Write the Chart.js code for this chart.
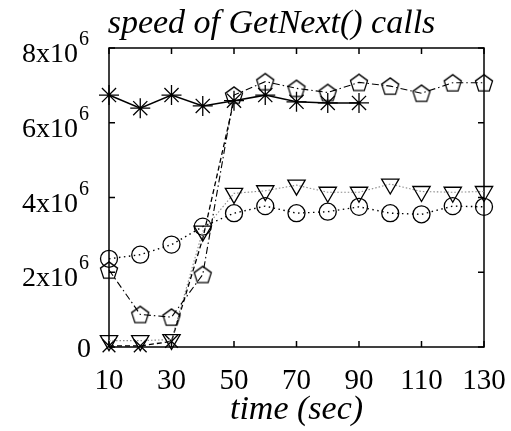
<!DOCTYPE html>
<html>
<head>
<meta charset="utf-8">
<script src="https://cdn.jsdelivr.net/npm/chart.js@4.4.1/dist/chart.umd.min.js"></script>
<style>
  html, body { margin: 0; padding: 0; background: #ffffff; }
  #wrap { width: 511px; height: 431px; }
</style>
</head>
<body>
<div id="wrap"><canvas id="chart" width="511" height="431"></canvas></div>
<script>
// Sample times (seconds)
const times = [10, 20, 30, 40, 50, 60, 70, 80, 90, 100, 110, 120, 130];

// GetNext() calls per second, one array per run
const asteriskRun = [6.74e6, 6.39e6, 6.74e6, 6.45e6, 6.59e6, 6.74e6, 6.56e6, 6.53e6, 6.53e6];
const pentagonRun = [2.06e6, 0.87e6, 0.80e6, 1.94e6, 6.74e6, 7.10e6, 6.92e6, 6.81e6, 7.08e6, 6.98e6, 6.79e6, 7.07e6, 7.07e6];
const triangleRun = [0.17e6, 0.17e6, 0.20e6, 3.10e6, 4.11e6, 4.18e6, 4.33e6, 4.14e6, 4.14e6, 4.36e6, 4.16e6, 4.14e6, 4.16e6];
const circleRun   = [2.36e6, 2.47e6, 2.74e6, 3.22e6, 3.58e6, 3.77e6, 3.58e6, 3.62e6, 3.75e6, 3.58e6, 3.55e6, 3.77e6, 3.75e6];
const crossRun    = [0.03e6, 0.03e6, 0.15e6, 2.90e6, 6.60e6];

// Axis ticks and their labels
const xTickValues = [10, 30, 50, 70, 90, 110, 130];
const yTickValues = [0, 2e6, 4e6, 6e6, 8e6];
const yTickMantissa = ['0', '2x10', '4x10', '6x10', '8x10'];
const yTickExponent = ['', '6', '6', '6', '6'];

const chartTitle = 'speed of GetNext() calls';
const xAxisTitle = 'time (sec)';

const FONT = '"Liberation Serif", "Times New Roman", serif';

function pairs(values) {
  return values.map((v, i) => ({ x: times[i], y: v }));
}

// Open pentagon marker
function makePentagon(r) {
  const size = Math.ceil(r * 2 + 4);
  const cv = document.createElement('canvas');
  cv.width = size; cv.height = size;
  const g = cv.getContext('2d');
  const c = size / 2;
  g.beginPath();
  for (let k = 0; k < 5; k++) {
    const a = -Math.PI / 2 + k * 2 * Math.PI / 5;
    const px = c + r * Math.cos(a), py = c + r * Math.sin(a) + r * 0.1;
    if (k === 0) g.moveTo(px, py); else g.lineTo(px, py);
  }
  g.closePath();
  g.lineWidth = 1.3;
  g.strokeStyle = '#000';
  g.stroke();
  return cv;
}
const pentagonMarker = makePentagon(9);

// Frame with inward ticks, drawn beneath the series
const framePlugin = {
  id: 'frame',
  beforeDatasetsDraw(chart) {
    const { ctx, chartArea: a, scales } = chart;
    ctx.save();
    ctx.strokeStyle = '#000';
    ctx.lineWidth = 1.5;
    ctx.strokeRect(a.left, a.top, a.right - a.left, a.bottom - a.top);
    const len = 6;
    ctx.beginPath();
    xTickValues.forEach(v => {
      const x = scales.x.getPixelForValue(v);
      ctx.moveTo(x, a.bottom); ctx.lineTo(x, a.bottom - len);
      ctx.moveTo(x, a.top); ctx.lineTo(x, a.top + len);
    });
    yTickValues.forEach(v => {
      const y = scales.y.getPixelForValue(v);
      ctx.moveTo(a.left, y); ctx.lineTo(a.left + len, y);
      ctx.moveTo(a.right, y); ctx.lineTo(a.right - len, y);
    });
    ctx.stroke();
    ctx.restore();
  },
  afterDraw(chart) {
    const { ctx, chartArea: a, scales } = chart;
    ctx.save();
    ctx.fillStyle = '#000';
    // x tick labels
    ctx.font = '29px ' + FONT;
    ctx.textAlign = 'center';
    ctx.textBaseline = 'alphabetic';
    xTickValues.forEach(v => {
      ctx.fillText(String(v), scales.x.getPixelForValue(v), a.bottom + 42);
    });
    // y tick labels with superscript exponent
    yTickValues.forEach((v, i) => {
      const y = scales.y.getPixelForValue(v);
      const right = a.left - 20;
      ctx.textAlign = 'right';
      if (yTickExponent[i]) {
        ctx.font = '20px ' + FONT;
        const ew = ctx.measureText(yTickExponent[i]).width;
        ctx.fillText(yTickExponent[i], right, y - 3);
        ctx.font = '28px ' + FONT;
        ctx.fillText(yTickMantissa[i], right - ew - 1, y + 14);
      } else {
        ctx.font = '28px ' + FONT;
        ctx.fillText(yTickMantissa[i], right + 2, y + 9.5);
      }
    });
    // axis title and chart title
    ctx.font = 'italic 34px ' + FONT;
    ctx.textAlign = 'center';
    ctx.fillText(xAxisTitle, (a.left + a.right) / 2, 419);
    ctx.fillText(chartTitle, 271.5, 33);
    ctx.restore();
  }
};

const common = {
  borderColor: '#000',
  pointBorderColor: '#000',
  pointBackgroundColor: 'rgba(0,0,0,0)',
  pointBorderWidth: 1.3,
  pointHoverRadius: 0,
  tension: 0,
  fill: false,
  clip: false
};

new Chart(document.getElementById('chart'), {
  type: 'line',
  data: {
    datasets: [
      Object.assign({}, common, {
        label: 'asterisk', data: pairs(asteriskRun),
        borderWidth: 1.6, pointStyle: 'star', pointRadius: 10
      }),
      Object.assign({}, common, {
        label: 'pentagon', data: pairs(pentagonRun),
        borderWidth: 1.1, borderDash: [7, 3, 1.5, 3], pointStyle: pentagonMarker, pointRadius: 9
      }),
      Object.assign({}, common, {
        label: 'triangle', data: pairs(triangleRun),
        borderColor: '#8a8a8a', borderWidth: 1.1, borderDash: [1.5, 2],
        pointStyle: 'triangle', pointRotation: 180, pointRadius: 10
      }),
      Object.assign({}, common, {
        label: 'circle', data: pairs(circleRun),
        borderWidth: 1.4, borderDash: [1.5, 3.5], pointStyle: 'circle', pointRadius: 8.5
      }),
      Object.assign({}, common, {
        label: 'cross', data: pairs(crossRun),
        borderWidth: 1.3, borderDash: [5, 3], pointStyle: 'crossRot',
        pointRadius: [9, 9, 9, 0, 0]
      })
    ]
  },
  options: {
    responsive: false,
    animation: false,
    devicePixelRatio: 1,
    layout: { padding: { top: 48, right: 27, left: 0, bottom: 0 } },
    plugins: { legend: { display: false }, title: { display: false }, tooltip: { enabled: false } },
    events: [],
    scales: {
      x: {
        type: 'linear', min: 10, max: 130,
        ticks: { display: false }, grid: { display: false }, border: { display: false },
        afterFit(s) { s.height = 84; }
      },
      y: {
        type: 'linear', min: 0, max: 8e6,
        ticks: { display: false }, grid: { display: false }, border: { display: false },
        afterFit(s) { s.width = 109; }
      }
    }
  },
  plugins: [framePlugin]
});
</script>
</body>
</html>
